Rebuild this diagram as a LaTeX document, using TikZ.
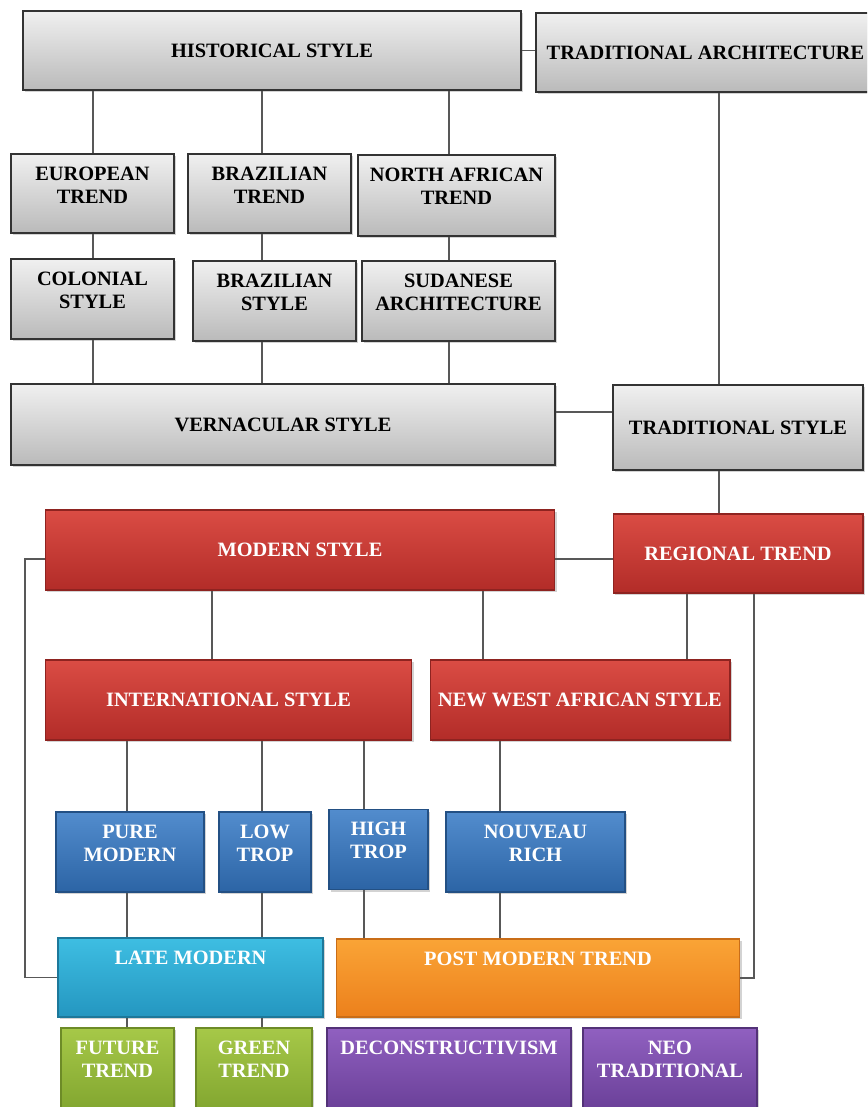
\documentclass[tikz,border=0pt]{standalone}
\usepackage{fontspec}
\setmainfont{Liberation Serif}
\usetikzlibrary{shadows}

\definecolor{grigioA}{RGB}{240,240,240}
\definecolor{grigioB}{RGB}{186,186,186}
\definecolor{rossoA}{RGB}{218,76,68}
\definecolor{rossoB}{RGB}{178,44,40}
\definecolor{bluA}{RGB}{82,140,205}
\definecolor{bluB}{RGB}{44,100,165}
\definecolor{cianoA}{RGB}{62,190,226}
\definecolor{cianoB}{RGB}{36,150,192}
\definecolor{aranA}{RGB}{250,164,54}
\definecolor{aranB}{RGB}{236,128,28}
\definecolor{verdeA}{RGB}{166,200,72}
\definecolor{verdeB}{RGB}{128,164,46}
\definecolor{violaA}{RGB}{144,96,192}
\definecolor{violaB}{RGB}{104,62,150}
\definecolor{linea}{RGB}{88,88,88}

\begin{document}
\begin{tikzpicture}[x=0.02cm, y=-0.02cm,
    box/.style={rectangle, align=center, inner xsep=2pt,
        font=\fontsize{11.6}{13}\selectfont\bfseries,
        drop shadow={opacity=0.35, shadow xshift=1.2pt, shadow yshift=-1.2pt}},
    topbox/.style={inner ysep=0pt, text height=0.52cm, text depth=#1},
    toptwo/.style={inner ysep=0pt, text height=0.98cm, text depth=#1},
    grey/.style={box, draw=black!80, line width=1.1pt, top color=grigioA, bottom color=grigioB, text=black},
    red/.style={box, draw=rossoB!80!black, line width=0.6pt, top color=rossoA, bottom color=rossoB, text=white},
    blu/.style={box, draw=bluB!80!black, line width=0.6pt, top color=bluA, bottom color=bluB, text=white},
    cyanbox/.style={box, draw=cianoB!80!black, line width=0.6pt, top color=cianoA, bottom color=cianoB, text=white},
    orangebox/.style={box, draw=aranB!85!black, line width=0.6pt, top color=aranA, bottom color=aranB, text=white},
    greenbox/.style={box, draw=verdeB!85!black, line width=0.6pt, top color=verdeA, bottom color=verdeB, text=white},
    purplebox/.style={box, draw=violaB!80!black, line width=0.6pt, top color=violaA, bottom color=violaB, text=white},
    link/.style={draw=linea, line width=1.1pt}]

    \path[use as bounding box, clip] (0,0) rectangle (867,1107);

    % Colonne e righe dei collegamenti
    \coordinate (xa) at (93,0);
    \coordinate (xb) at (262,0);
    \coordinate (xc) at (449,0);
    \coordinate (xd) at (719,0);
    \coordinate (xe) at (212,0);
    \coordinate (xf) at (483,0);
    \coordinate (xg) at (687,0);
    \coordinate (xh) at (754,0);
    \coordinate (xi) at (127,0);
    \coordinate (xj) at (364,0);
    \coordinate (xk) at (500,0);
    \coordinate (xl) at (25,0);
    \coordinate (ya) at (0,412);
    \coordinate (yb) at (0,559);

    % Stile storico e architettura tradizionale
    \node[grey, minimum width=9.96cm, minimum height=1.58cm] (hist) at (272,50.5) {HISTORICAL STYLE};
    \node[grey, minimum width=6.78cm, minimum height=1.58cm] (tradarch) at (705.5,52.5) {TRADITIONAL ARCHITECTURE};

    \node[grey, minimum width=3.26cm, toptwo=0.60cm] (europ) at (92.5,193.5) {EUROPEAN\\TREND};
    \node[grey, minimum width=3.26cm, toptwo=0.60cm] (braztr) at (269.5,193.5) {BRAZILIAN\\TREND};
    \node[grey, minimum width=3.94cm, toptwo=0.64cm] (nafr) at (456.5,195.5) {NORTH AFRICAN\\TREND};

    \node[grey, minimum width=3.26cm, toptwo=0.62cm] (colon) at (92.5,299) {COLONIAL\\STYLE};
    \node[grey, minimum width=3.26cm, toptwo=0.62cm] (brazst) at (274.5,301) {BRAZILIAN\\STYLE};
    \node[grey, minimum width=3.86cm, toptwo=0.62cm] (sudan) at (458.5,301) {SUDANESE\\ARCHITECTURE};

    \node[grey, minimum width=10.88cm, minimum height=1.62cm] (vern) at (283,424.5) {VERNACULAR STYLE};
    \node[grey, minimum width=5.00cm, minimum height=1.70cm] (tradst) at (738,427.5) {TRADITIONAL STYLE};

    % Stile moderno e tendenza regionale
    \node[red, minimum width=10.20cm, minimum height=1.60cm] (modern) at (300,550) {MODERN STYLE};
    \node[red, minimum width=5.00cm, minimum height=1.58cm] (region) at (738,553.5) {REGIONAL TREND};

    \node[red, minimum width=7.34cm, minimum height=1.60cm] (intl) at (228.5,700) {INTERNATIONAL STYLE};
    \node[red, minimum width=6.00cm, minimum height=1.60cm] (nwa) at (580,700) {NEW WEST AFRICAN STYLE};

    \node[blu, minimum width=2.96cm, toptwo=0.62cm] (pure) at (130,852) {PURE\\MODERN};
    \node[blu, minimum width=1.84cm, toptwo=0.62cm] (low) at (265,852) {LOW\\TROP};
    \node[blu, minimum width=1.98cm, toptwo=0.62cm] (high) at (378.5,849.5) {HIGH\\TROP};
    \node[blu, minimum width=3.58cm, toptwo=0.62cm] (nouv) at (535.5,852) {NOUVEAU\\RICH};

    \node[cyanbox, minimum width=5.30cm, topbox=1.06cm] (late) at (190.5,977.5) {LATE MODERN};
    \node[orangebox, minimum width=8.08cm, topbox=1.04cm] (post) at (538,978) {POST MODERN TREND};

    \node[greenbox, minimum width=2.26cm, toptwo=0.76cm] (future) at (117.5,1071.5) {FUTURE\\TREND};
    \node[greenbox, minimum width=2.32cm, toptwo=0.76cm] (green) at (254,1071.5) {GREEN\\TREND};
    \node[purplebox, minimum width=4.88cm, topbox=1.22cm] (decon) at (449,1071.5) {DECONSTRUCTIVISM};
    \node[purplebox, minimum width=3.48cm, toptwo=0.76cm] (neo) at (670,1071.5) {NEO\\TRADITIONAL};

    % Collegamenti
    \draw[link] (hist.east) -- (hist.east -| tradarch.west);
    \draw[link] (hist.south -| xa) -- (europ.north -| xa);
    \draw[link] (hist.south -| xb) -- (braztr.north -| xb);
    \draw[link] (hist.south -| xc) -- (nafr.north -| xc);
    \draw[link] (europ.south -| xa) -- (colon.north -| xa);
    \draw[link] (braztr.south -| xb) -- (brazst.north -| xb);
    \draw[link] (nafr.south -| xc) -- (sudan.north -| xc);
    \draw[link] (colon.south -| xa) -- (vern.north -| xa);
    \draw[link] (brazst.south -| xb) -- (vern.north -| xb);
    \draw[link] (sudan.south -| xc) -- (vern.north -| xc);
    \draw[link] (tradarch.south -| xd) -- (tradst.north -| xd);
    \draw[link] (vern.east |- ya) -- (tradst.west |- ya);
    \draw[link] (tradst.south -| xd) -- (region.north -| xd);

    \draw[link] (modern.east |- yb) -- (region.west |- yb);
    \draw[link] (modern.west |- yb) -| (xl |- late.west) -- (late.west);
    \draw[link] (modern.south -| xe) -- (intl.north -| xe);
    \draw[link] (modern.south -| xf) -- (nwa.north -| xf);
    \draw[link] (region.south -| xg) -- (nwa.north -| xg);
    \draw[link] (region.south -| xh) |- (post.east);

    \draw[link] (intl.south -| xi) -- (pure.north -| xi);
    \draw[link] (intl.south -| xb) -- (low.north -| xb);
    \draw[link] (intl.south -| xj) -- (high.north -| xj);
    \draw[link] (nwa.south -| xk) -- (nouv.north -| xk);
    \draw[link] (pure.south -| xi) -- (late.north -| xi);
    \draw[link] (low.south -| xb) -- (late.north -| xb);
    \draw[link] (high.south -| xj) -- (post.north -| xj);
    \draw[link] (nouv.south -| xk) -- (post.north -| xk);
    \draw[link] (late.south -| xi) -- (future.north -| xi);
    \draw[link] (late.south -| xb) -- (green.north -| xb);
\end{tikzpicture}
\end{document}
